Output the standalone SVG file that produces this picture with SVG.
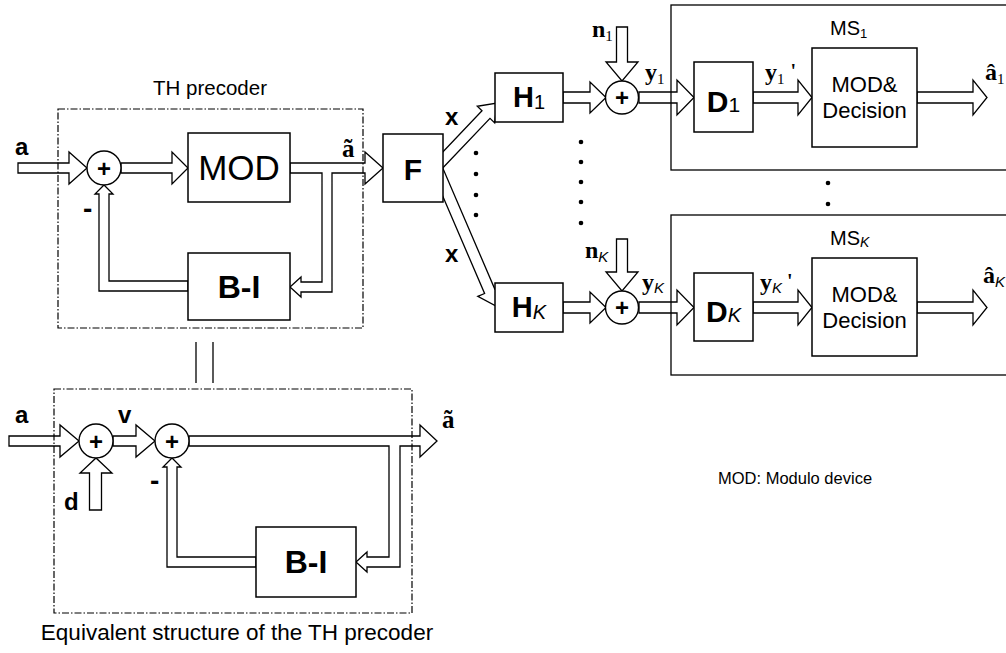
<svg xmlns="http://www.w3.org/2000/svg" width="1006" height="653" viewBox="0 0 1006 653">
<style>
.box{fill:#fff;stroke:#000;stroke-width:1.5}
.arr{fill:#fff;stroke:#000;stroke-width:1.3;stroke-linejoin:miter}
.dash{fill:none;stroke:#000;stroke-width:1.2;stroke-dasharray:7 2 1.5 2}
.ms{fill:none;stroke:#000;stroke-width:1.3}
.sum{fill:#fff;stroke:#000;stroke-width:1.4}
.dot{fill:#000}
.s{font-family:"Liberation Sans",Arial,sans-serif;fill:#000}
.b{font-weight:bold}
.sr{font-family:"Liberation Serif","Times New Roman",serif;font-weight:bold;fill:#000}
.it{font-family:"Liberation Sans",Arial,sans-serif;font-style:italic;font-weight:normal}
.sub{font-family:"Liberation Serif","Times New Roman",serif;font-weight:normal}
</style>
<rect width="1006" height="653" fill="#fff"/>

<g id="connectors">
  <!-- TH precoder -->
  <polygon class="arr" points="18,163 69,163 69,152 87,168 69,184 69,173 18,173"/>
  <polygon class="arr" points="121,163 172,163 172,152 188,168 172,184 172,173 121,173"/>
  <path class="arr" d="M290,163 L365,163 L365,152 L383,168 L365,184 L365,173 L332,173 L332,292 L301,292 L301,297 L290,287 L301,277 L301,282 L322,282 L322,173 L290,173 Z"/>
  <path class="arr" d="M188,281 L109,281 L109,194 L113,194 L104,185 L95,194 L99,194 L99,291 L188,291 Z"/>
  <!-- equivalence -->
  <line x1="196" y1="342" x2="196" y2="383" stroke="#000" stroke-width="1.3"/>
  <line x1="213" y1="342" x2="213" y2="383" stroke="#000" stroke-width="1.3"/>
  <!-- equivalent structure -->
  <polygon class="arr" points="9,436 60,436 60,425 79,441 60,457 60,446 9,446"/>
  <polygon class="arr" points="113,436 136,436 136,425 155,441 136,457 136,446 113,446"/>
  <polygon class="arr" points="89.5,510 101.5,510 101.5,473 112,473 96,458 80,473 89.5,473"/>
  <path class="arr" d="M189,436 L420,436 L420,425 L437,441 L420,457 L420,446 L400,446 L400,567 L367,567 L367,572 L356,562 L367,552 L367,557 L389,557 L389,446 L189,446 Z"/>
  <path class="arr" d="M256,557 L177,557 L177,467 L181,467 L172,458 L163,467 L167,467 L167,567 L256,567 Z"/>
  <!-- F to channels -->
  <polygon class="arr" points="442.0,168.8 490.0,118.4 494.7,122.9 497,103 477.3,106.3 482.0,110.8 434.0,161.2"/>
  <polygon class="arr" points="432.9,173.2 484.6,293.5 477.8,296.4 496,306 501.6,286.2 494.8,289.1 443.1,168.8"/>
  <!-- branch 1 -->
  <polygon class="arr" points="563,92 590,92 590,82 606,97.5 590,113 590,103 563,103"/>
  <polygon class="arr" points="616.5,27 627.5,27 627.5,62 638,62 622,81 606,62 616.5,62"/>
  <polygon class="arr" points="639,92 677,92 677,80 694,97.5 677,115 677,103 639,103"/>
  <polygon class="arr" points="753,92 798,92 798,80 812,97.5 798,115 798,103 753,103"/>
  <polygon class="arr" points="917,92 973,92 973,80 987,97.5 973,115 973,103 917,103"/>
  <!-- branch K -->
  <polygon class="arr" points="563,302 590,302 590,292 606,307.5 590,323 590,313 563,313"/>
  <polygon class="arr" points="616.5,239 627.5,239 627.5,272 638,272 622,291 606,272 616.5,272"/>
  <polygon class="arr" points="639,302 677,302 677,290 694,307.5 677,325 677,313 639,313"/>
  <polygon class="arr" points="753,302 798,302 798,290 812,307.5 798,325 798,313 753,313"/>
  <polygon class="arr" points="917,302 973,302 973,290 987,307.5 973,325 973,313 917,313"/>
</g>

<g id="th-precoder">
  <rect class="dash" x="58" y="109" width="305" height="219"/>
  <text class="s" x="210" y="95" font-size="20.5" text-anchor="middle">TH precoder</text>
  <text class="s b" x="15" y="155" font-size="24">a</text>
  <text class="s b" x="83" y="218" font-size="28">-</text>
  <text class="sr" x="342" y="157" font-size="25">ã</text>
</g>
<g id="sum1">
  <circle class="sum" cx="104" cy="168" r="17"/>
  <text class="s b" x="104" y="176.5" font-size="24" text-anchor="middle">+</text>
</g>
<g id="mod">
  <rect class="box" x="188" y="133" width="102" height="69"/>
  <text class="s" x="239" y="180" font-size="35" text-anchor="middle">MOD</text>
</g>
<g id="bi1">
  <rect class="box" x="188" y="253" width="102" height="67"/>
  <text class="s b" x="239" y="298" font-size="32" text-anchor="middle">B-I</text>
</g>

<g id="equivalent">
  <rect class="dash" x="54" y="389" width="358" height="224"/>
  <text class="s" x="237" y="640" font-size="22.5" text-anchor="middle">Equivalent structure of the TH precoder</text>
  <text class="s b" x="15" y="423" font-size="24">a</text>
  <text class="s b" x="118" y="423" font-size="24">v</text>
  <text class="s b" x="64" y="510" font-size="24">d</text>
  <text class="s b" x="150" y="490" font-size="28">-</text>
  <text class="sr" x="442" y="428" font-size="25">ã</text>
</g>
<g id="sum2">
  <circle class="sum" cx="96" cy="441" r="17"/>
  <text class="s b" x="96" y="449.5" font-size="24" text-anchor="middle">+</text>
</g>
<g id="sum3">
  <circle class="sum" cx="172" cy="441" r="17"/>
  <text class="s b" x="172" y="449.5" font-size="24" text-anchor="middle">+</text>
</g>
<g id="bi2">
  <rect class="box" x="256" y="527" width="100" height="70"/>
  <text class="s b" x="306" y="573" font-size="32" text-anchor="middle">B-I</text>
</g>

<g id="f">
  <rect class="box" x="383" y="134" width="60" height="68"/>
  <text class="s b" x="413" y="180" font-size="30" text-anchor="middle">F</text>
  <text class="s b" x="445" y="125" font-size="24">x</text>
  <text class="s b" x="445" y="262" font-size="24">x</text>
</g>

<g id="dots">
  <circle class="dot" cx="476" cy="153" r="2.3"/>
  <circle class="dot" cx="476" cy="174" r="2.3"/>
  <circle class="dot" cx="476" cy="195" r="2.3"/>
  <circle class="dot" cx="476" cy="215" r="2.3"/>
  <circle class="dot" cx="581" cy="142" r="2.3"/>
  <circle class="dot" cx="581" cy="162" r="2.3"/>
  <circle class="dot" cx="581" cy="182" r="2.3"/>
  <circle class="dot" cx="581" cy="202" r="2.3"/>
  <circle class="dot" cx="581" cy="223" r="2.3"/>
  <circle class="dot" cx="828" cy="183" r="2.3"/>
  <circle class="dot" cx="828" cy="204" r="2.3"/>
</g>

<g id="h1">
  <rect class="box" x="495" y="73" width="68" height="49"/>
  <text class="s b" x="529" y="107" font-size="29" text-anchor="middle">H<tspan font-weight="normal" font-size="20" dy="2">1</tspan></text>
</g>
<g id="sum-1">
  <circle class="sum" cx="622" cy="97.5" r="16.5"/>
  <text class="s b" x="622" y="106" font-size="24" text-anchor="middle">+</text>
  <text class="sr" x="592" y="37" font-size="24">n<tspan class="sub" font-size="15" dy="4">1</tspan></text>
  <text class="sr" x="645" y="80" font-size="24">y<tspan class="sub" font-size="15" dy="4">1</tspan></text>
</g>
<g id="ms1">
  <rect class="ms" x="671" y="5" width="345" height="165"/>
  <text class="s" x="830" y="35" font-size="20">MS<tspan font-size="13" dy="3">1</tspan></text>
  <text class="sr" x="765" y="80" font-size="24">y<tspan class="sub" font-size="15" dy="4">1</tspan><tspan font-size="20" dx="6" dy="-6">'</tspan></text>
  <text class="sr" x="985" y="80" font-size="24">â<tspan class="sub" font-size="15" dy="4">1</tspan></text>
</g>
<g id="d1">
  <rect class="box" x="694" y="62" width="59" height="70"/>
  <text class="s b" x="723.5" y="112" font-size="30" text-anchor="middle">D<tspan font-weight="normal" font-size="21">1</tspan></text>
</g>
<g id="dec1">
  <rect class="box" x="812" y="48" width="105" height="99"/>
  <text class="s" x="864.5" y="92" font-size="22" text-anchor="middle">MOD&amp;</text>
  <text class="s" x="864.5" y="118" font-size="22" text-anchor="middle">Decision</text>
</g>

<g id="hK">
  <rect class="box" x="495" y="283" width="68" height="49"/>
  <text class="s b" x="529" y="317" font-size="29" text-anchor="middle">H<tspan class="it" font-size="20" dy="2">K</tspan></text>
</g>
<g id="sum-K">
  <circle class="sum" cx="622" cy="307.5" r="16.5"/>
  <text class="s b" x="622" y="316" font-size="24" text-anchor="middle">+</text>
  <text class="sr" x="585" y="258" font-size="24">n<tspan class="it" font-size="15" dy="4">K</tspan></text>
  <text class="sr" x="642" y="290" font-size="24">y<tspan class="it" font-size="15" dy="3">K</tspan></text>
</g>
<g id="msK">
  <rect class="ms" x="671" y="215" width="345" height="160"/>
  <text class="s" x="830" y="245" font-size="20">MS<tspan class="it" font-size="14" dy="2">K</tspan></text>
  <text class="sr" x="760" y="290" font-size="24">y<tspan class="it" font-size="15" dy="3">K</tspan><tspan font-size="20" dx="5" dy="-5">'</tspan></text>
  <text class="sr" x="983" y="283" font-size="24">â<tspan class="it" font-size="15" dy="4">K</tspan></text>
</g>
<g id="dK">
  <rect class="box" x="694" y="273" width="59" height="68"/>
  <text class="s b" x="723.5" y="322" font-size="30" text-anchor="middle">D<tspan class="it" font-size="20">K</tspan></text>
</g>
<g id="decK">
  <rect class="box" x="812" y="258" width="105" height="98"/>
  <text class="s" x="864.5" y="302" font-size="22" text-anchor="middle">MOD&amp;</text>
  <text class="s" x="864.5" y="328" font-size="22" text-anchor="middle">Decision</text>
</g>

<g id="legend">
  <text class="s" x="718" y="484" font-size="16.5">MOD: Modulo device</text>
</g>
</svg>
